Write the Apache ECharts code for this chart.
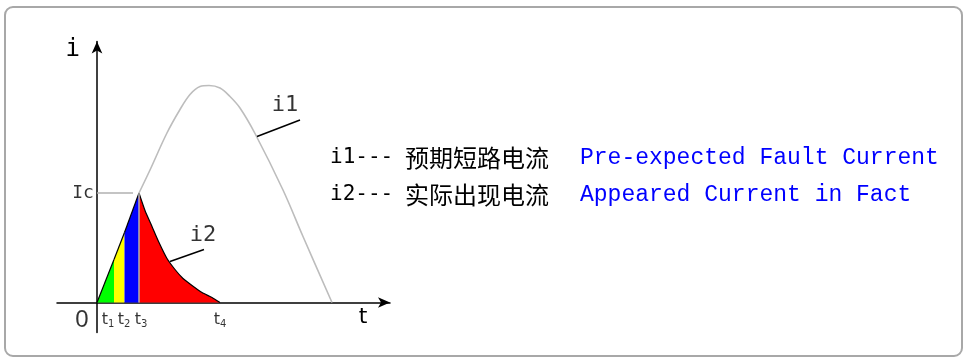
<!DOCTYPE html>
<html>
<head>
<meta charset="utf-8">
<script src="https://cdn.jsdelivr.net/npm/echarts@6/dist/echarts.min.js"></script>
<style>
    html, body { margin: 0; padding: 0; background: #fff; }
    #FaultChart { width: 964px; height: 360px; }
</style>
</head>
<body>
<div id="FaultChart"></div>
<script>

var global = {};

// i2 (actual current), split at t1 / t2 / t3
var riseGreen = [[0, 0], [17, 43]];
var riseYellow = [[17, 43], [27.5, 70]];
var riseBlue = [[27.5, 70], [42, 109.5]];
var decayRed = [[42, 109.5], [48, 92], [55, 76], [62, 60], [70, 44], [78, 33], [86, 24], [95, 17], [105, 10], [115, 5], [123, 0]];

// i1 (pre-expected fault current), visible part after t3
var i1Curve = [[42, 109.5], [53, 132.5], [69.7, 169], [83, 193], [93, 208], [103, 216], [112, 217], [123, 214.5], [133, 206], [143, 194.5], [158, 169], [186, 112.5], [206, 66], [235, 0]];

var icValue = 109.5;
var icGuide = [[0, icValue], [36, icValue]];
var t3Divider = [[42, 0], [42, icValue]];
var i1Leader = [[160, 166], [203, 182.5]];
var i2Leader = [[73, 41], [107, 53]];

// tick labels below the t axis
var tickNames = ['1', '2', '3', '4'];
var tickPos = [11, 27, 44, 123];

var legendKeys = ['i1---', 'i2---'];
var legendCn = ['预期短路电流', '实际出现电流'];
var legendEn = ['Pre-expected Fault Current', 'Appeared Current in Fact'];

InitChart();

function AreaSeries(data, color) {
    return {
        type: 'line',
        data: data,
        symbol: 'none',
        silent: true,
        smooth: 0.2,
        lineStyle: { color: '#000', width: 1.2 },
        areaStyle: { color: color, opacity: 1 },
        z: 2
    };
}

function PlainLine(data, color, width, z, smooth) {
    return {
        type: 'line',
        data: data,
        symbol: 'none',
        silent: true,
        smooth: smooth || false,
        lineStyle: { color: color, width: width },
        z: z
    };
}

function InitChart() {

    global.FaultChart = echarts.init(document.getElementById('FaultChart'));

    var mono = 'Liberation Mono';

    var tickLabels = [];
    $each(tickPos, function (i, x) {
        tickLabels.push({ value: [x, -17.5], label: { formatter: '{t|t}{s|' + tickNames[i] + '}' } });
    });
    tickLabels.push({ value: [-15, -18], label: { formatter: '{z|0}' } });
    tickLabels.push({ value: [-14, icValue], label: { formatter: '{m|Ic}' } });
    tickLabels.push({ value: [188, 197.5], label: { formatter: '{n|i1}' } });
    tickLabels.push({ value: [106, 67.5], label: { formatter: '{n|i2}' } });

    var legendText = [];
    $each(legendKeys, function (i, k) {
        legendText.push('{k|' + k + '}{c|' + legendCn[i] + '}{e|' + legendEn[i] + '}');
    });

    global.FaultChartOption = {
        backgroundColor: '#fff',
        animation: false,
        graphic: [{
            type: 'rect',
            shape: { x: 5, y: 7, width: 957, height: 349, r: 8 },
            style: { fill: 'none', stroke: '#a8a8a8', lineWidth: 2 },
            silent: true
        }],
        title: {
            left: 325,
            top: 134,
            text: legendText.join('\n'),
            textStyle: {
                lineHeight: 37,
                fontWeight: 'normal',
                rich: {
                    k: { fontFamily: 'DejaVu Sans Mono', fontSize: 21, fontWeight: 'normal', color: '#000', width: 75 },
                    c: { fontFamily: 'Noto Sans CJK SC', fontSize: 24, fontWeight: 'normal', color: '#000', width: 175 },
                    e: { fontFamily: mono, fontSize: 23, fontWeight: 'normal', color: '#0000ff' }
                }
            }
        },
        grid: {
            left: 57,
            right: 574,
            top: 41.5,
            bottom: 27.5,
            outerBoundsMode: 'none'
        },
        xAxis: {
            type: 'value',
            min: -40,
            max: 293,
            name: 't',
            nameLocation: 'end',
            nameGap: -27,
            nameTextStyle: { fontFamily: 'DejaVu Sans', fontSize: 22, color: '#000', align: 'center', verticalAlign: 'top', padding: [4, 0, 0, 0] },
            axisLine: { onZero: true, symbol: ['none', 'arrow'], symbolSize: [8, 12], lineStyle: { color: '#000', width: 1.5 } },
            axisTick: { show: false },
            axisLabel: { show: false },
            splitLine: { show: false }
        },
        yAxis: {
            type: 'value',
            min: -30,
            max: 261,
            name: 'i',
            nameLocation: 'end',
            nameGap: -8,
            nameTextStyle: { fontFamily: 'DejaVu Sans Mono', fontSize: 24, color: '#000', align: 'right', verticalAlign: 'middle', padding: [0, 17, 0, 0] },
            axisLine: { onZero: true, symbol: ['none', 'arrow'], symbolSize: [8, 12], lineStyle: { color: '#000', width: 1.5 } },
            axisTick: { show: false },
            axisLabel: { show: false },
            splitLine: { show: false }
        },
        series: [
            AreaSeries(riseGreen, '#00ff00'),
            AreaSeries(riseYellow, '#ffff00'),
            AreaSeries(riseBlue, '#0000ff'),
            AreaSeries(decayRed, '#ff0000'),
            PlainLine(i1Curve, '#bdbdbd', 1.6, 3, 0.35),
            PlainLine(t3Divider, '#b0b0b0', 1.5, 3),
            PlainLine(icGuide, '#b0b0b0', 1.5, 3),
            PlainLine(i1Leader, '#000', 1.5, 3),
            PlainLine(i2Leader, '#000', 1.5, 3),
            {
                type: 'scatter',
                data: tickLabels,
                symbolSize: 0,
                silent: true,
                z: 4,
                label: {
                    show: true,
                    position: 'inside',
                    color: '#000',
                    rich: {
                        t: { fontFamily: 'DejaVu Sans', fontSize: 16, color: '#000' },
                        s: { fontFamily: 'DejaVu Sans', fontSize: 10, color: '#000', padding: [8, 0, 0, 0] },
                        z: { fontFamily: 'Liberation Sans', fontSize: 24, color: '#000' },
                        m: { fontFamily: 'DejaVu Sans Mono', fontSize: 18, color: '#000' },
                        n: { fontFamily: 'DejaVu Sans Mono', fontSize: 22, color: '#000' }
                    }
                }
            }
        ]
    };

    global.FaultChart.setOption(global.FaultChartOption);
}

function $each(list, fn) {
    for (var i = 0; i < list.length; i++) {
        fn(i, list[i]);
    }
}

</script>
</body>
</html>
